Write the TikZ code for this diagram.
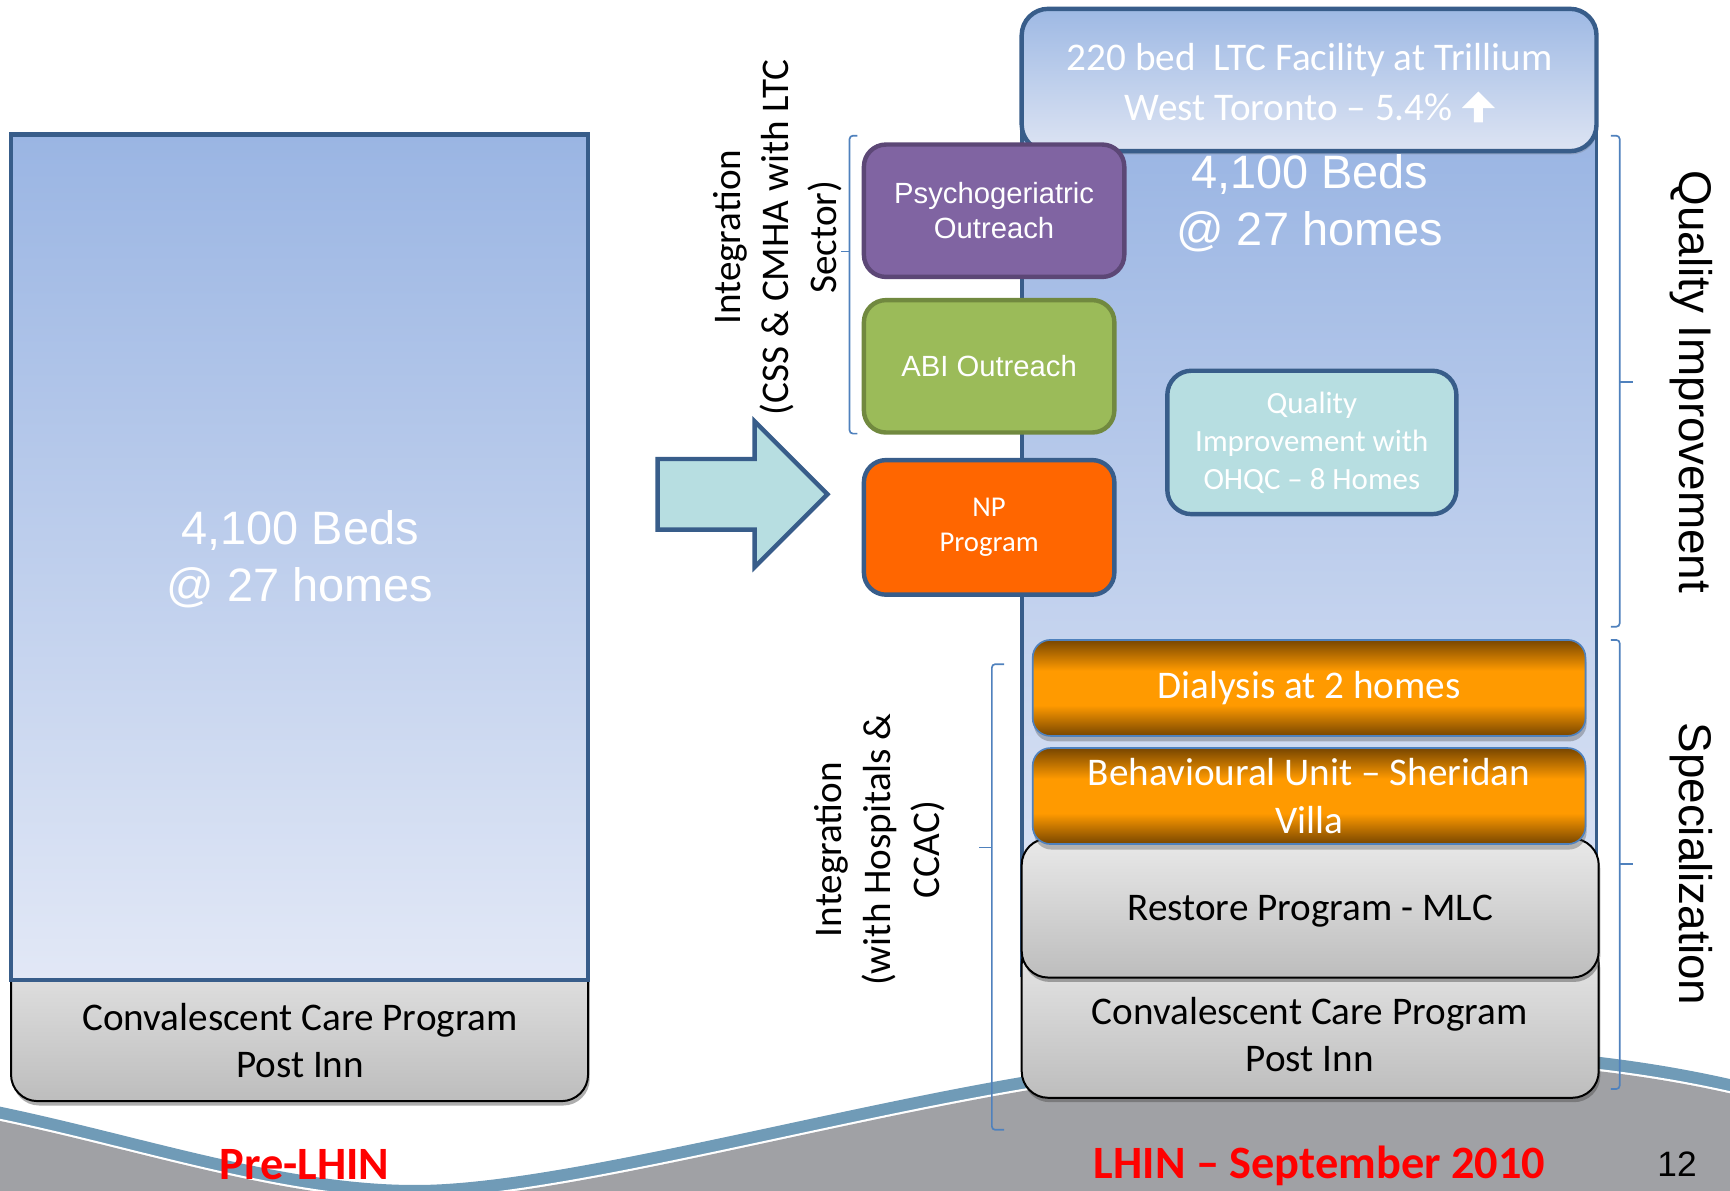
\documentclass[tikz,border=0pt]{standalone}
\usepackage{fontspec}
\setmainfont{Carlito}
\newfontfamily\arialfont{Liberation Sans}
\usetikzlibrary{shadows}

\definecolor{frameblue}{HTML}{385D8A}
\definecolor{bluetop}{HTML}{9AB5E3}
\definecolor{bluebot}{HTML}{E2E8F6}
\definecolor{ltctop}{HTML}{9EB9E4}
\definecolor{ltcbot}{HTML}{DDE4F3}
\definecolor{graytop}{HTML}{E9E9E9}
\definecolor{graybot}{HTML}{BDBDBD}
\definecolor{psyfill}{HTML}{8064A2}
\definecolor{psyline}{HTML}{5C4776}
\definecolor{abifill}{HTML}{9BBB59}
\definecolor{abiline}{HTML}{71893F}
\definecolor{npfill}{HTML}{FF6600}
\definecolor{aqua}{HTML}{B7DEE1}
\definecolor{barbrown}{HTML}{784600}
\definecolor{amber}{HTML}{FF9A00}
\definecolor{bracketblue}{HTML}{4F81BD}
\definecolor{bandblue}{HTML}{709BB7}
\definecolor{floorgray}{HTML}{A0A1A5}
\definecolor{labelred}{HTML}{FF0000}

\pgfdeclareverticalshading{amberbar}{100bp}{color(0bp)=(barbrown); color(25bp)=(barbrown); color(41bp)=(amber); color(59bp)=(amber); color(75bp)=(barbrown); color(100bp)=(barbrown)}

\newcommand\fsz[2]{\fontsize{#1}{#2}\selectfont}

% upper edge of the swoosh along the bottom of the slide
\def\wavepath{(0,1003) .. controls (130,1030) and (260,1075) .. (380,1074) .. controls (520,1073) and (800,990) .. (1000,965) .. controls (1200,940) and (1400,940) .. (1568,978)}

\tikzset{
  panel/.style={anchor=north west, inner sep=0pt, outer sep=0pt, align=center},
  bedsbox/.style={panel, draw=frameblue, line width=4pt, top color=bluetop, bottom color=bluebot},
  greybox/.style={panel, draw=black, line width=1.8pt, top color=graytop, bottom color=graybot,
    rounded corners=24pt, font=\fsz{35.5}{43},
    drop shadow={shadow xshift=1.5pt, shadow yshift=-4pt, opacity=0.45, fill=black!70}},
  outreach/.style={panel, line width=4pt, rounded corners=20pt, text=white},
  amberbox/.style={panel, draw=bracketblue, line width=1.5pt, rounded corners=16pt, shading=amberbar,
    text=white, font=\fsz{35.5}{43},
    drop shadow={shadow xshift=1pt, shadow yshift=-5pt, opacity=0.35, fill=black!70}},
  brace/.style={draw=bracketblue, line width=1.5pt, rounded corners=3pt},
  sidelabel/.style={font=\arialfont\fsz{41.5}{50}, text=black, rotate=-90},
  vlabel/.style={rotate=90, align=center, font=\fsz{35.5}{43.5}},
  footer/.style={text=labelred, font=\bfseries\fsz{42}{50}, anchor=base, inner sep=0pt},
  bedstext/.style={text=white, font=\arialfont\fsz{42.5}{52}, align=center}
}

\begin{document}
\begin{tikzpicture}[x=1pt,y=-1pt]
\useasboundingbox (0,0) rectangle (1568,1079);
\fill[white] (0,0) rectangle (1568,1079);

% bottom swoosh: blue band, thin white line, grey floor
\begin{scope}
  \clip (0,0) rectangle (1568,1079);
  \fill[bandblue] \wavepath -- (1568,1110) -- (0,1110) -- cycle;
  \fill[white, yshift=-11pt] \wavepath -- (1568,1110) -- (0,1110) -- cycle;
  \fill[floorgray, yshift=-13pt] \wavepath -- (1568,1110) -- (0,1110) -- cycle;
\end{scope}

% ---- before the LHIN ----
\node[greybox, minimum width=523, minimum height=150] (preconv) at (10,848) {};
\node[font=\fsz{35.5}{43}, align=center] (preconvtext) at (272,943) {Convalescent Care Program\\Post Inn};
\node[bedsbox, minimum width=523, minimum height=766] (prebeds) at (10,122) {};
\node[bedstext] (prebedstext) at (272,507) {4,100 Beds\\@ 27 homes};

% transition arrow
\draw[draw=frameblue, line width=4pt, fill=aqua, line join=miter]
  (596,416) -- (684,416) -- (684,382) -- (750,448) -- (684,514) -- (684,480) -- (596,480) -- cycle;

% ---- LHIN, September 2010 ----
\node[bedsbox, line width=3.5pt, minimum width=521, minimum height=764] (postbeds) at (926,120) {};
\node[panel, draw=frameblue, line width=4pt, rounded corners=24pt, top color=ltctop, bottom color=ltcbot,
  minimum width=521, minimum height=129,
  drop shadow={shadow xshift=1pt, shadow yshift=-3pt, opacity=0.25, fill=black!60}] (ltc) at (926,8) {};
\node[text=white, font=\fsz{35.5}{43}, inner sep=0pt] (ltcname) at (1187,54) {220 bed\ \ LTC Facility at Trillium};
\node[text=white, font=\fsz{35.5}{43}, inner sep=0pt] (ltcpct) at (1187,97) {West Toronto – 5.4\%\rule{38pt}{0pt}};
\fill[white, shift={(ltcpct.east)}]
  (-30,1) -- (-15,-14) -- (0,1) -- (-11,1) -- (-11,14) -- (-19,14) -- (-19,1) -- cycle;
\node[bedstext] (postbedstext) at (1187,184) {4,100 Beds\\@ 27 homes};

\node[outreach, fill=psyfill, draw=psyline, minimum width=236, minimum height=120,
  font=\arialfont\fsz{26.5}{32}] (psych) at (783,131) {Psychogeriatric\\Outreach};
\node[outreach, fill=abifill, draw=abiline, minimum width=227, minimum height=120,
  font=\arialfont\fsz{26.5}{32}] (abi) at (783,272) {ABI Outreach};
\node[outreach, fill=npfill, draw=frameblue, minimum width=227, minimum height=122,
  font=\fsz{26}{32}] (np) at (783,417) {NP\\Program};

\node[outreach, rounded corners=22pt, fill=aqua, draw=frameblue, minimum width=262, minimum height=130,
  font=\fsz{28}{34.5}] (quality) at (1058,336) {Quality\\Improvement with\\OHQC – 8 Homes};

\node[amberbox, minimum width=501, minimum height=87] (dialysis) at (936,580) {Dialysis at 2 homes};

\node[greybox, minimum width=523, minimum height=145] (postconv) at (926,850) {};
\node[font=\fsz{35.5}{43}, align=center] (postconvtext) at (1187,937.5) {Convalescent Care Program\\Post Inn};
\node[greybox, minimum width=523, minimum height=126, text depth=-4pt] (restore) at (926,760) {Restore Program - MLC};
\node[amberbox, minimum width=501, minimum height=87] (behav) at (936,678) {Behavioural Unit – Sheridan\\Villa};

% brackets and their labels
\draw[brace] (777,123) -- (770,123) -- (770,393) -- (777,393);
\draw[brace] (770,228) -- (762,228);
\node[vlabel] (cmha) at (705,215) {Integration\\(CSS \& CMHA with LTC\\Sector)};

\draw[brace] (910,602) -- (899,602) -- (899,1024) -- (910,1024);
\draw[brace] (899,768) -- (887,768);
\node[vlabel, font=\fsz{35.5}{44.5}] (hosp) at (797,770) {Integration\\(with Hospitals \&\\CCAC)};

\draw[brace] (1460,123) -- (1468,123) -- (1468,568) -- (1460,568);
\draw[brace] (1468,346) -- (1480,346);
\node[sidelabel] (qi) at (1533,346) {Quality Improvement};

\draw[brace] (1460,580) -- (1468,580) -- (1468,987) -- (1460,987);
\draw[brace] (1468,783) -- (1480,783);
\node[sidelabel] (spec) at (1533,783) {Specialization};

% footer
\node[footer] (pre) at (276,1069) {Pre-LHIN};
\node[footer] (post) at (1196,1068) {LHIN – September 2010};
\node[font=\arialfont\fsz{32}{38}, anchor=base, inner sep=0pt] (pageno) at (1520,1066) {12};
\end{tikzpicture}
\end{document}
